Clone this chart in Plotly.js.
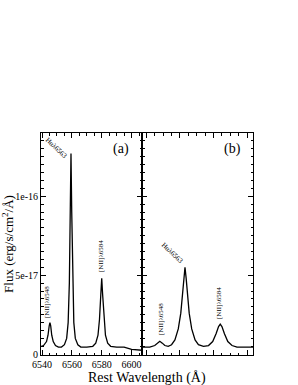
<!DOCTYPE html>
<html><head><meta charset="utf-8">
<script src="https://cdn.plot.ly/plotly-3.0.1.min.js"></script>
<style>html,body{margin:0;padding:0;background:#fff}#c{width:298px;height:385px}</style>
</head><body><div id="c"></div>
<script>
// Panel (a) spectrum: wavelength (Å) and flux (1e-17 erg/s/cm2/Å)
const waveA = [6539.5,6541,6543,6544,6544.8,6545.3,6545.8,6546.5,6547.5,6549,6551,6553,6555,6556.5,6557.5,6558.3,6558.9,6559.4,6559.9,6560.5,6561.3,6562.3,6564,6566,6570,6574,6576,6577.5,6578.5,6579.4,6580,6580.6,6581.5,6582.5,6584,6586,6590,6595,6600,6607];
const fluxA = [0.5,0.55,0.8,1.2,1.8,2.0,1.8,1.2,0.8,0.55,0.45,0.45,0.6,1.0,2.0,4.5,9.0,12.7,9.0,4.5,2.0,1.0,0.6,0.45,0.45,0.5,0.7,1.2,2.2,3.8,4.8,3.8,2.2,1.2,0.7,0.5,0.45,0.45,0.3,0.25];
// Panel (b) spectrum
const waveB = [6537.4,6542,6545,6546.5,6548,6549.5,6551,6553,6555,6557,6559,6560.5,6561.5,6562.3,6563,6563.7,6564.5,6565.5,6567,6569,6571,6574,6577,6579.5,6581.5,6583,6584,6585,6586.5,6588.5,6591,6594,6600,6603.5];
const fluxB = [0.45,0.45,0.55,0.7,0.82,0.7,0.55,0.5,0.6,0.9,1.6,2.6,3.8,4.8,5.5,4.8,3.8,2.6,1.6,0.9,0.6,0.5,0.55,0.8,1.3,1.75,1.9,1.75,1.3,0.8,0.55,0.45,0.45,0.45];
const unit = 1e-17;
const yTickVals = [0, 5e-17, 1e-16];
const yTickText = ["0", "5e-17", "1e-16"];
const xTickVals = [6540, 6560, 6580, 6600];
const xTickText = ["6540", "6560", "6580", "6600"];

const F = "Liberation Serif, Times New Roman, serif";
const traces = [
  {x: waveA, y: fluxA.map(v => v*unit), xaxis: 'x', yaxis: 'y', mode: 'lines', line: {color: '#000', width: 1.3}, hoverinfo: 'skip'},
  {x: waveB, y: fluxB.map(v => v*unit), xaxis: 'x2', yaxis: 'y2', mode: 'lines', line: {color: '#000', width: 1.3}, hoverinfo: 'skip'}
];
const L = 41, R = 253, T = 133, B = 355;
const px = p => (p - L) / (R - L);
const py = p => (B - p) / (B - T);
const tickCommon = {ticks: 'inside', ticklen: 5, tickwidth: 1, tickcolor: '#000', showline: true, linecolor: '#000', linewidth: 1, mirror: 'ticks', showgrid: false, zeroline: false, tickfont: {family: F, size: 10, color: '#000'}};
const ann = (text, x, y, angle, size) => ({text: text, xref: 'paper', yref: 'paper', x: px(x), y: py(y), xanchor: 'center', yanchor: 'middle', textangle: angle, showarrow: false, font: {family: F, size: size, color: '#000'}});
const layout = {
  width: 298, height: 385,
  margin: {l: L, r: 298 - R, t: T, b: 385 - B},
  paper_bgcolor: '#fff', plot_bgcolor: '#fff',
  showlegend: false,
  xaxis: Object.assign({}, tickCommon, {domain: [0, px(142)], range: [6539.3, 6607], tickvals: xTickVals, ticktext: xTickText, anchor: 'y', ticklabelstandoff: 0, minor: {dtick: 5, ticks: 'inside', ticklen: 2.5, tickcolor: '#000'}}),
  yaxis: Object.assign({}, tickCommon, {range: [-0.05e-17, 14e-17], tickvals: yTickVals, ticktext: yTickText, anchor: 'x', ticklabelstandoff: 0, minor: {dtick: 5e-18, ticks: 'inside', ticklen: 2.5, tickcolor: '#000'},
    title: {text: 'Flux (erg/s/cm<sup>2</sup>/Å)', font: {family: F, size: 13, color: '#000'}, standoff: 4}}),
  xaxis2: Object.assign({}, tickCommon, {domain: [px(142), 1], range: [6537.4, 6603.5], tickvals: xTickVals, showticklabels: false, anchor: 'y2', minor: {dtick: 5, ticks: 'inside', ticklen: 2.5, tickcolor: '#000'}}),
  yaxis2: Object.assign({}, tickCommon, {range: [-0.05e-17, 14e-17], tickvals: yTickVals, showticklabels: false, anchor: 'x2', minor: {dtick: 5e-18, ticks: 'inside', ticklen: 2.5, tickcolor: '#000'}}),
  annotations: [
    ann('Rest Wavelength (Å)', 147, 377.5, 0, 14),
    ann('(a)', 121, 149, 0, 14),
    ann('(b)', 232, 149, 0, 14),
    ann('Hαλ6563', 56, 148, 43, 7),
    ann('[NII]λ6548', 47, 302, -90, 7),
    ann('[NII]λ6584', 101, 256, -90, 7),
    ann('Hαλ6563', 172, 253, 43, 7),
    ann('[NII]λ6548', 161, 319, -90, 7),
    ann('[NII]λ6584', 219, 303, -90, 7)
  ]
};
Plotly.newPlot('c', traces, layout, {staticPlot: true, displayModeBar: false});
</script></body></html>
